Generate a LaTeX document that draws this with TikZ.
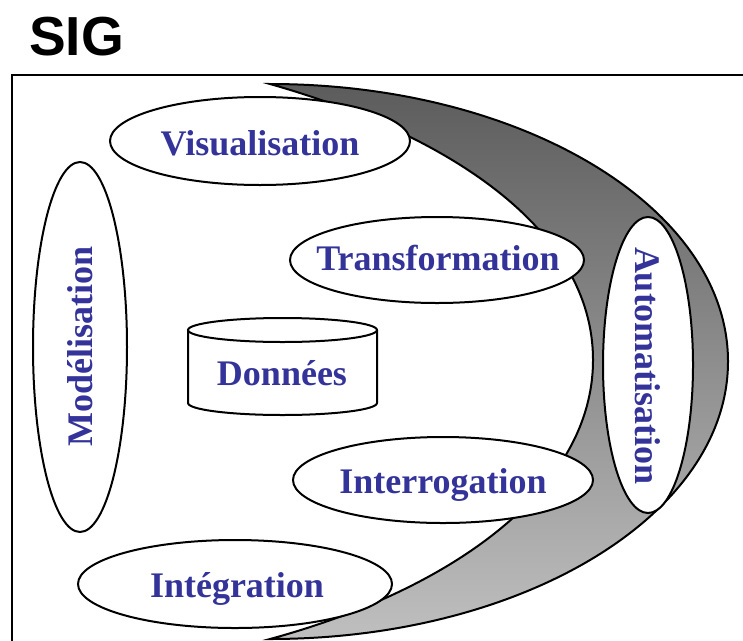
\documentclass[tikz,border=0pt]{standalone}
\usepackage{fontspec}
\setmainfont{Liberation Serif}
\newfontfamily\titlefont{Liberation Sans}
\definecolor{labelblue}{HTML}{333399}
\begin{document}
\begin{tikzpicture}[x=1pt, y=-1pt]
        % Define styles
        \tikzset{
            frame/.style={line width=2.8pt},
            bubble/.style={draw, fill=white, line width=2pt},
            moon/.style={draw, line width=2pt, top color=black!64, middle color=black!50, bottom color=black!25},
            label/.style={font=\fontsize{36}{40}\selectfont\bfseries, text=labelblue, inner sep=0pt, anchor=base}
        }
        \useasboundingbox (0,0) rectangle (743,640);
        \clip (0,0) rectangle (743,640);
        % Title and frame
        \node[font=\titlefont\fontsize{55}{60}\selectfont\bfseries, inner sep=0pt, anchor=base west] (title) at (29,55) {SIG};
        \draw[frame] (12,75) rectangle (800,700);
        % Grey crescent behind the right-hand bubbles
        \path[moon] (270,84) arc[start angle=-90, end angle=90, x radius=458, y radius=277.5]
            .. controls (450,590) and (593,490) .. (593,360)
            .. controls (593,230) and (450,135) .. (270,84) -- cycle;
        % Bubbles
        \draw[bubble] (260,141) ellipse [x radius=150, y radius=44];
        \node[label] (vis) at (260,155) {Visualisation};
        \draw[bubble] (437,260) ellipse [x radius=147, y radius=43];
        \node[label] (trans) at (438,270) {Transformation};
        \draw[bubble] (443,480) ellipse [x radius=150, y radius=43];
        \node[label] (inter) at (443,493) {Interrogation};
        \draw[bubble] (235,584) ellipse [x radius=157, y radius=44];
        \node[label] (integ) at (237,597) {Intégration};
        \draw[bubble] (80,347) ellipse [x radius=47, y radius=185];
        \node[label, rotate=90] (model) at (92,346) {Modélisation};
        \draw[bubble] (648,365) ellipse [x radius=45, y radius=148];
        \node[label, rotate=-90] (auto) at (635,366) {Automatisation};
        % Data store in the middle
        \draw[bubble] (188,330) -- (188,403) arc[start angle=180, end angle=0, x radius=94.5, y radius=12] -- (377,330);
        \draw[bubble] (282.5,330) ellipse [x radius=94.5, y radius=12];
        \node[label] (data) at (282,385) {Données};
    \end{tikzpicture}
\end{document}
